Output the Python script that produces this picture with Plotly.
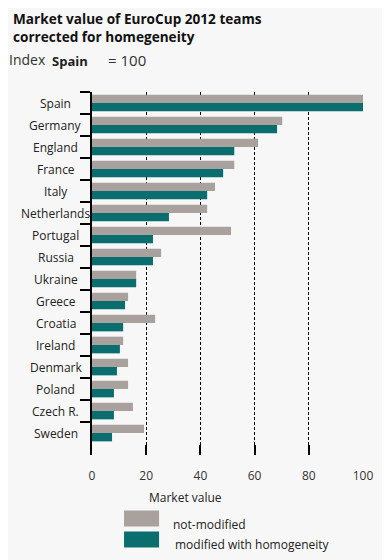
import plotly.graph_objects as go

countries = ["Spain", "Germany", "England", "France", "Italy", "Netherlands", "Portugal",
             "Russia", "Ukraine", "Greece", "Croatia", "Ireland", "Denmark", "Poland",
             "Czech R.", "Sweden"]
not_modified = [100, 70.2, 61.3, 52.5, 45.4, 42.5, 51.3, 25.5, 16.3, 13.3, 23.3, 11.5, 13.3, 13.3, 15.1, 19.2]
modified = [100, 68.3, 52.5, 48.4, 42.5, 28.4, 22.5, 22.5, 16.3, 12.2, 11.5, 10.3, 9.2, 8.1, 8.1, 7.4]
x_ticks = [0, 20, 40, 60, 80, 100]

GREY = "#a8a19e"
TEAL = "#0b6e6e"
BG = "#f7f7f7"
OFF = 8  # page body margin
W, H = 390 - OFF, 560 - OFF
L, R, T, B = 92 - OFF, 390 - 362.7, 92.3 - OFF, 560 - 455.5
PW, PH = W - L - R, H - T - B


def px(xp):
    return (xp - OFF - L) / PW


def py(yp):
    return (H - B - (yp - OFF)) / PH


fig = go.Figure()
fig.add_trace(go.Bar(y=countries, x=not_modified, orientation="h", name="not-modified",
                     marker=dict(color=GREY, line=dict(width=0)), showlegend=False))
fig.add_trace(go.Bar(y=countries, x=modified, orientation="h", name="modified with homogeneity",
                     marker=dict(color=TEAL, line=dict(width=0)), showlegend=False))

font_main = "Open Sans, Liberation Sans, sans-serif"
ann = []
for c in countries:
    ann.append(dict(x=px(56), y=c, xref="paper", yref="y", text=c, showarrow=False,
                    xanchor="center", yanchor="middle",
                    font=dict(family=font_main, size=12, color="#222")))

ann += [
    dict(x=px(12), y=py(8.5), xref="paper", yref="paper",
         text="<b>Market value of EuroCup 2012 teams<br>corrected for homegeneity</b>",
         showarrow=False, align="left",
         xanchor="left", yanchor="top", borderpad=0,
         font=dict(family=font_main, size=13.6, color="#111")),
    dict(x=px(7), y=py(60), xref="paper", yref="paper", text="Index", showarrow=False,
         xanchor="left", yanchor="middle", font=dict(family=font_main, size=14, color="#333")),
    dict(x=px(50), y=py(61), xref="paper", yref="paper", text="<b>Spain</b>", showarrow=False,
         xanchor="left", yanchor="middle", font=dict(family=font_main, size=13, color="#222")),
    dict(x=px(106), y=py(60), xref="paper", yref="paper", text="= 100", showarrow=False,
         xanchor="left", yanchor="middle", font=dict(family=font_main, size=15, color="#333")),
    dict(x=px(185), y=py(498), xref="paper", yref="paper", text="Market value", showarrow=False,
         xanchor="center", yanchor="middle", font=dict(family=font_main, size=12, color="#222")),
    dict(x=px(171), y=py(525), xref="paper", yref="paper", text="not-modified", showarrow=False,
         xanchor="left", yanchor="middle", font=dict(family=font_main, size=12, color="#222")),
    dict(x=px(173), y=py(545), xref="paper", yref="paper", text="modified with homogeneity",
         showarrow=False, xanchor="left", yanchor="middle",
         font=dict(family=font_main, size=12, color="#222")),
]

shapes = [
    dict(type="rect", xref="paper", yref="paper", x0=px(124), x1=px(159), y0=py(511), y1=py(527),
         fillcolor=GREY, line=dict(width=0)),
    dict(type="rect", xref="paper", yref="paper", x0=px(124), x1=px(159), y0=py(532), y1=py(548),
         fillcolor=TEAL, line=dict(width=0)),
]

fig.update_layout(
    width=W, height=H,
    margin=dict(l=L, r=R, t=T, b=B, pad=0),
    paper_bgcolor=BG, plot_bgcolor=BG,
    barmode="group", bargap=0.24, bargroupgap=0,
    annotations=ann, shapes=shapes,
    xaxis=dict(range=[0, 100], tickvals=x_ticks, ticktext=[str(v) for v in x_ticks],
               showgrid=True, gridcolor="black", griddash="3px,2px", gridwidth=1,
               zeroline=False, showline=False,
               ticks="inside", ticklen=10, tickcolor="black", tickwidth=1.5,
               tickfont=dict(family=font_main, size=12, color="#333"), ticklabelstandoff=12),
    yaxis=dict(categoryorder="array", categoryarray=countries, range=[16.0, -0.5],
               showticklabels=False, showgrid=False, zeroline=False,
               showline=True, linecolor="black", linewidth=1.5,
               ticks="outside", tickson="boundaries", ticklen=10, tickcolor="black", tickwidth=1.5),
)

fig.write_html("out.html")
